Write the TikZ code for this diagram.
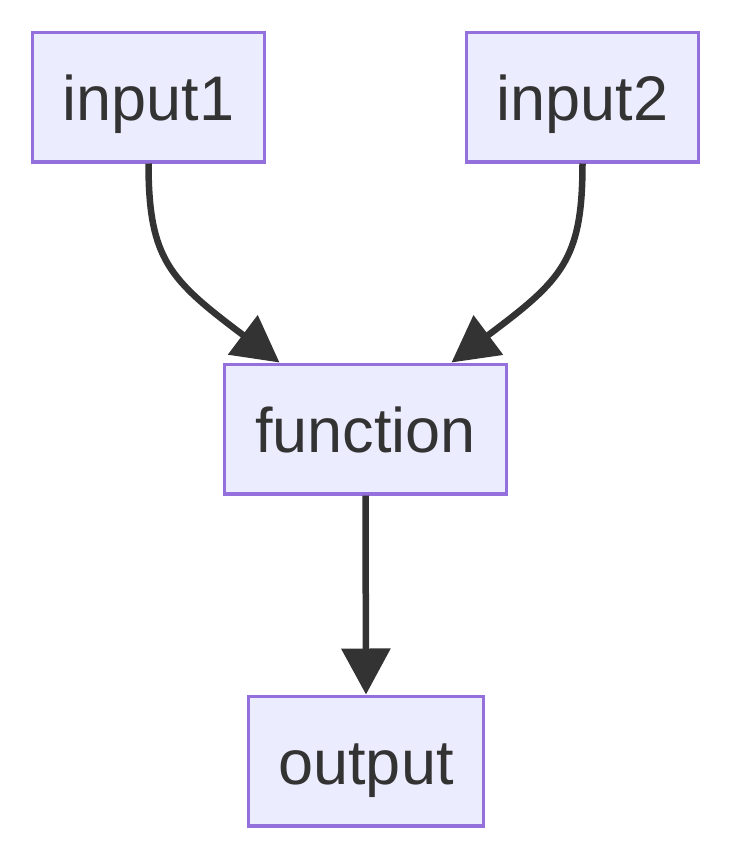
\documentclass[tikz,border=0pt]{standalone}
\usepackage{fontspec}
\setmainfont{Liberation Sans}
\usetikzlibrary{arrows.meta}
\definecolor{nodefill}{HTML}{ECECFF}
\definecolor{nodeline}{HTML}{9370DB}
\definecolor{ink}{HTML}{333333}
\begin{document}
\begin{tikzpicture}[x=1pt,y=-1pt,
  box/.style={draw=nodeline, fill=nodefill, line width=3.5pt, inner sep=0pt,
    minimum height=129.5pt, text height=60pt, text depth=14pt, text=ink,
    font=\fontsize{63}{75}\selectfont},
  edge/.style={draw=ink, line width=6.5pt, -{Triangle[length=46pt,width=48pt]}}]
\useasboundingbox (0,0) rectangle (732,860);
\node[box, minimum width=232pt] (in1) at (148.5,97) {input1};
\node[box, minimum width=232pt] (in2) at (582.5,97) {input2};
\node[box, minimum width=282pt] (fn) at (365.5,429) {function};
\node[box, minimum width=235pt] (out) at (366,761) {output};
\draw[edge] (in1.south) .. controls (148.5,260) and (170,280) .. ([xshift=-86pt]fn.north);
\draw[edge] (in2.south) .. controls (582.5,260) and (562,280) .. ([xshift=86pt]fn.north);
\draw[edge] (fn.south) -- (out.north);
\end{tikzpicture}
\end{document}
